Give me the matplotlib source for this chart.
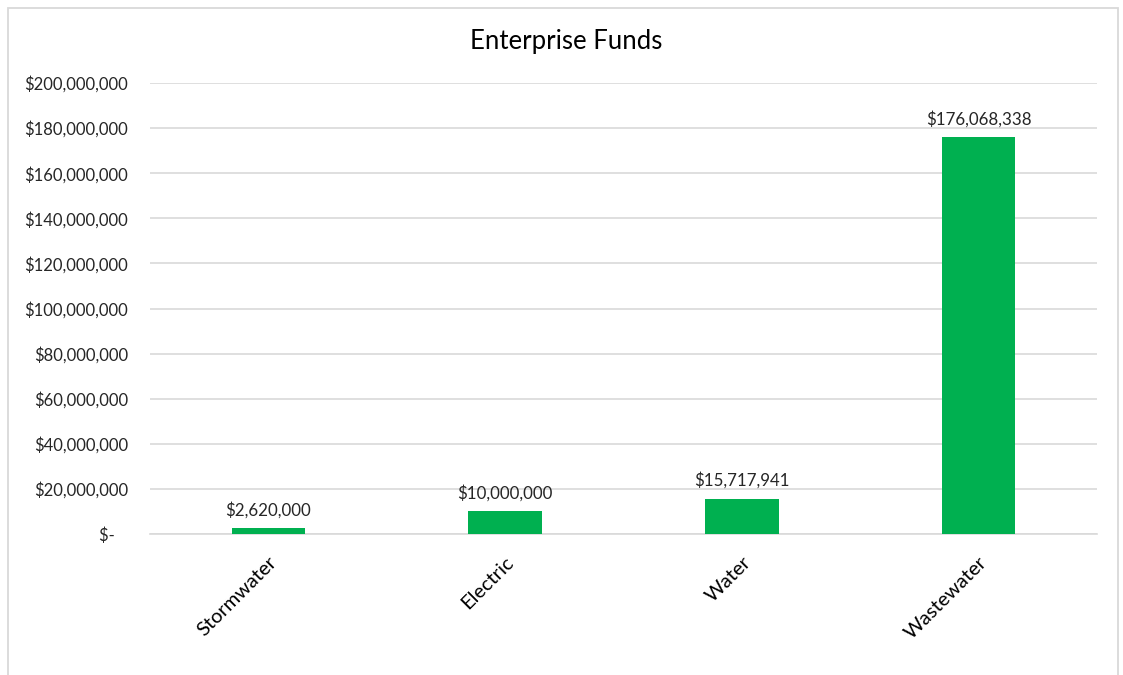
import matplotlib
matplotlib.use("Agg")
import matplotlib.pyplot as plt
from matplotlib.patches import Rectangle
from matplotlib.ticker import FuncFormatter, MultipleLocator

categories = ["Stormwater", "Electric", "Water", "Wastewater"]
values = [2620000, 10000000, 15717941, 176068338]

BAR_COLOR = "#00B050"
GRID_COLOR = "#D9D9D9"
TEXT_COLOR = "#262626"

plt.rcParams["font.family"] = ["Lato", "DejaVu Sans"]

fig = plt.figure(figsize=(11.23, 6.75), dpi=100)
fig.patch.set_facecolor("white")

# chart frame
fig.add_artist(Rectangle((8 / 1123, -0.01), 1110 / 1123, 1 - 8 / 675 + 0.01,
                         transform=fig.transFigure, fill=False,
                         edgecolor=GRID_COLOR, linewidth=1.3))

ax = fig.add_axes([150 / 1123, 1 - 534 / 675, 947 / 1123, 451 / 675])
x = range(len(categories))
bars = ax.bar(x, values, width=0.31, color=BAR_COLOR, zorder=3)

ax.set_xlim(-0.5, len(categories) - 0.5)
ax.set_ylim(0, 200000000)
ax.yaxis.set_major_locator(MultipleLocator(20000000))


def money(v, _pos=None):
    if v == 0:
        return "$-   "
    return f"${v:,.0f}"


ax.yaxis.set_major_formatter(FuncFormatter(money))
ax.grid(axis="y", color=GRID_COLOR, linewidth=1.2, zorder=0)
ax.set_axisbelow(True)
for side in ["top", "right", "left"]:
    ax.spines[side].set_visible(False)
ax.spines["bottom"].set_color(GRID_COLOR)
ax.spines["bottom"].set_linewidth(1.2)
ax.tick_params(axis="y", length=0, pad=16, labelsize=12, labelcolor=TEXT_COLOR)
ax.tick_params(axis="x", length=0, pad=14, labelsize=14.5, labelcolor="black")

ax.set_xticks(list(x))
ax.set_xticklabels(categories, rotation=45, ha="right", va="top",
                   rotation_mode="anchor")

for xi, v in zip(x, values):
    ax.annotate(f"${v:,.0f}", (xi, v), xytext=(0, 7), textcoords="offset points",
                ha="center", va="bottom", fontsize=12.2, color=TEXT_COLOR)

fig.text(566 / 1123, 1 - 42 / 675, "Enterprise Funds", ha="center", va="center",
         fontsize=18.5, color="black")

fig.savefig("out.png", dpi=100, facecolor="white")
